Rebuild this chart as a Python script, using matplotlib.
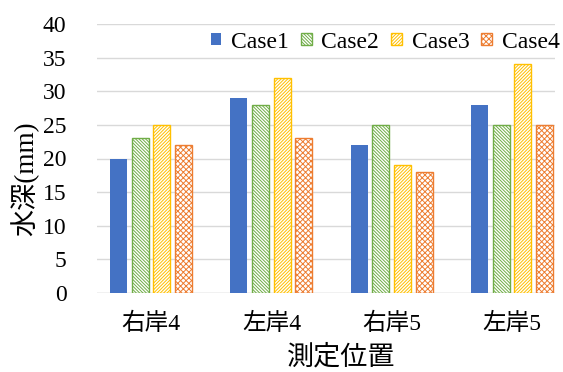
import numpy as np
import matplotlib
matplotlib.use("Agg")
import matplotlib.pyplot as plt

plt.rcParams["font.family"] = ["Liberation Serif", "Noto Sans CJK JP"]
plt.rcParams["hatch.linewidth"] = 0.7

positions = ["右岸4", "左岸4", "右岸5", "左岸5"]
cases = ["Case1", "Case2", "Case3", "Case4"]
case1 = [20, 29, 22, 28]
case2 = [23, 28, 25, 25]
case3 = [25, 32, 19, 34]
case4 = [22, 23, 18, 25]

COLORS = ["#4472C4", "#70AD47", "#FFC000", "#ED7D31"]
HATCHES = [None, "\\" * 10, "/" * 10, "x" * 6]

W, H = 563, 372
fig = plt.figure(figsize=(W / 100, H / 100), dpi=100)
ax = fig.add_axes([97 / W, 1 - 293 / H, 458 / W, 269 / H])

x = np.arange(len(positions))
slot = 0.18
width = 0.141
for i, (name, vals) in enumerate(zip(cases, [case1, case2, case3, case4])):
    off = (i - 1.5) * slot
    if i == 0:
        ax.bar(x + off, vals, width, color=COLORS[i], label=name, zorder=3)
    else:
        ax.bar(x + off, vals, width, facecolor="white", edgecolor=COLORS[i],
               hatch=HATCHES[i], linewidth=1.0, label=name, zorder=3)

ax.set_xlim(-0.449, 3.357)
ax.set_ylim(0, 40)
ax.set_yticks(range(0, 41, 5))
ax.set_xticks(x)
ax.set_xticklabels(positions, fontsize=17)
ax.tick_params(axis="y", labelsize=17, length=0, pad=22)
ax.tick_params(axis="x", length=0, pad=14)
ax.grid(axis="y", color="#d9d9d9", linewidth=1, zorder=0)
for s in ax.spines.values():
    s.set_visible(False)
ax.axhline(0, color="#d9d9d9", linewidth=1, zorder=2)

fig.text(25 / W, 1 - 179 / H, "水深(mm)", fontsize=19.5, rotation=90,
         ha="center", va="center")
fig.text(341 / W, 1 - 358 / H, "測定位置", fontsize=19.5, ha="center", va="center")

ax.legend(ncol=4, loc="center right", bbox_to_anchor=(0.998, 1 - 42 / H),
          bbox_transform=fig.transFigure, fontsize=17,
          frameon=True, framealpha=1, edgecolor="white", fancybox=False,
          handlelength=0.45, handleheight=0.45, handletextpad=0.42,
          columnspacing=0.5, borderpad=0.1, borderaxespad=0.0)

fig.savefig("out.png", dpi=100)
